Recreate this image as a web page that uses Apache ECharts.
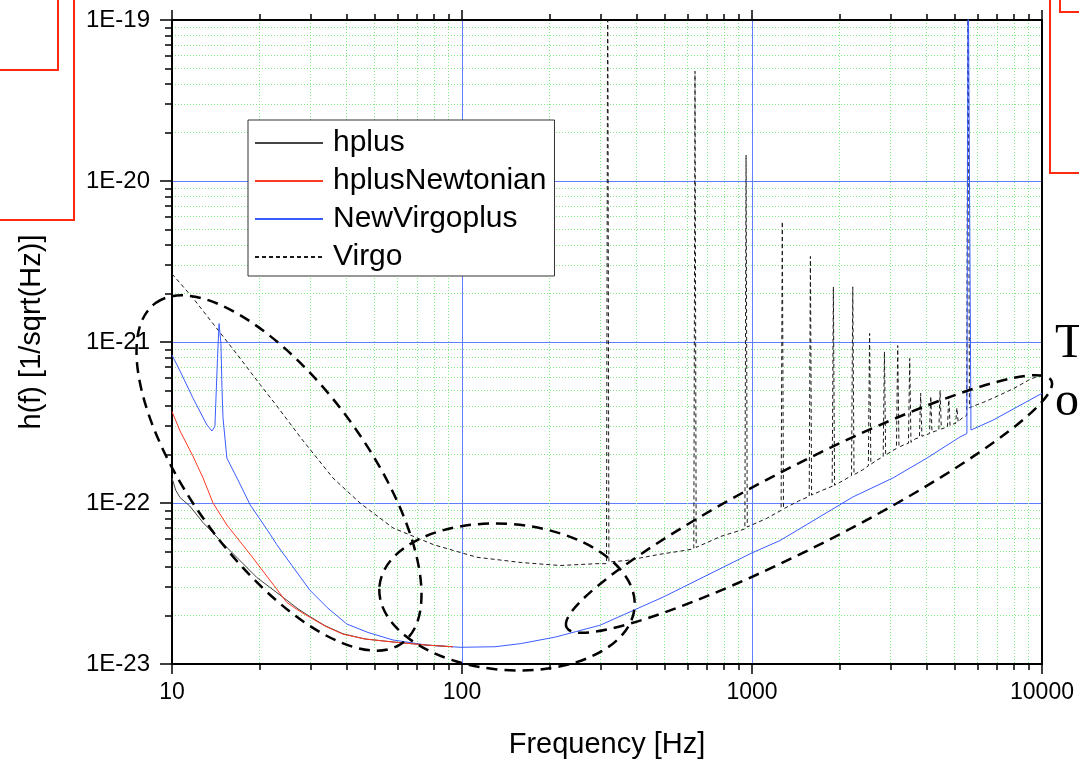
<!DOCTYPE html>
<html>
<head>
<meta charset="utf-8">
<title>h(f) spectra</title>
<script src="https://cdn.jsdelivr.net/npm/echarts@6/dist/echarts.min.js"></script>
<style>
  html, body { margin: 0; padding: 0; background: #fff; }
  #chart { width: 1079px; height: 764px; }
</style>
</head>
<body>
<div id="chart"></div>
<script>
// Strain amplitude spectra, h(f) in 1/sqrt(Hz), versus frequency in Hz.

// hplus: full waveform amplitude
const hplusFreq = [10, 10.3, 10.66, 11.5, 12.8, 15.46, 19.6, 24.9, 27.2, 29.9, 33.7, 38.9, 46.3, 57.8, 75.7, 93];
const hplusVal  = [1.43e-22, 1.2e-22, 1.08e-22, 9.6e-23, 7.55e-23, 5.3e-23, 3.45e-23, 2.49e-23, 2.2e-23, 1.97e-23, 1.73e-23, 1.54e-23, 1.43e-23, 1.37e-23, 1.31e-23, 1.28e-23];

// hplusNewtonian: Newtonian-order amplitude
const newtFreq = [10, 10.66, 11.8, 12.8, 13.85, 15.46, 18.6, 24.9, 27.2, 29.9, 33.7, 38.9, 46.3, 57.8, 75.7, 93];
const newtVal  = [3.7e-22, 2.8e-22, 1.96e-22, 1.43e-22, 1.0e-22, 7.3e-23, 4.8e-23, 2.41e-23, 2.16e-23, 1.95e-23, 1.72e-23, 1.53e-23, 1.43e-23, 1.37e-23, 1.31e-23, 1.28e-23];

// NewVirgoplus: advanced detector sensitivity
const nvFreq = [10, 10.66, 11.8, 13.2, 13.74, 14.06, 14.35, 14.53, 14.75, 14.87, 14.99, 15.46, 16.75, 18.6,
                21.8, 23, 29.9, 34.5, 40.1, 47.4, 57.8, 75.7, 98.5, 130, 160, 210, 299, 493, 1000, 1250, 2228, 3062,
                4008, 5212, 5508, 5560, 5690, 6776, 10000];
const nvVal  = [8.3e-22, 6.6e-22, 4.5e-22, 3.05e-22, 2.8e-22, 3.0e-22, 7.9e-22, 1.3e-21, 9.8e-22, 5.2e-22, 3.4e-22, 1.9e-22, 1.43e-22, 9.75e-23,
                6.4e-23, 5.5e-23, 2.87e-23, 2.22e-23, 1.77e-23, 1.57e-23, 1.41e-23, 1.31e-23, 1.27e-23, 1.28e-23, 1.34e-23, 1.47e-23, 1.74e-23, 2.6e-23, 4.9e-23, 5.85e-23, 1.09e-22, 1.43e-22,
                1.9e-22, 2.57e-22, 2.7e-22, 3e-19, 2.84e-22, 3.27e-22, 4.8e-22];

// Virgo: initial detector sensitivity with violin-mode resonances
const virgoFreq = [10, 11.8, 13.85, 16.75, 20.1, 23, 28, 35.9, 44.5, 57.8, 80, 112.7, 160, 218, 292,
                   315, 318, 321, 371, 480, 597, 630, 636, 642, 780, 945, 954, 963, 1120,
                   1260, 1272, 1284, 1450, 1575, 1590, 1605, 1750, 1890, 1908, 1926, 2080,
                   2204, 2226, 2248, 2400, 2519, 2544, 2569, 2700, 2834, 2862, 2890, 3030,
                   3148, 3180, 3212, 3340, 3463, 3498, 3533, 3650, 3778, 3816, 3854, 3990,
                   4093, 4134, 4175, 4300, 4408, 4452, 4496, 4620, 4722, 4770, 4818, 4950,
                   5037, 5088, 5139, 5300, 5500, 5560, 5620, 5800, 6300, 7000, 8000, 9000, 10000];
const virgoVal  = [2.65e-21, 1.88e-21, 1.3e-21, 8.4e-22, 5.46e-22, 4.0e-22, 2.5e-22, 1.43e-22, 1.0e-22, 7.0e-23, 5.5e-23, 4.6e-23, 4.27e-23, 4.09e-23, 4.2e-23,
                   4.2e-23, 3e-19, 4.3e-23, 4.4e-23, 4.8e-23, 5.1e-23, 5.2e-23, 4.8e-20, 5.3e-23, 6.2e-23, 6.9e-23, 1.45e-20, 7.1e-23, 8.0e-23,
                   9.0e-23, 5.6e-21, 9.2e-23, 1.03e-22, 1.1e-22, 3.4e-21, 1.12e-22, 1.2e-22, 1.27e-22, 2.2e-21, 1.29e-22, 1.39e-22,
                   1.48e-22, 2.2e-21, 1.5e-22, 1.6e-22, 1.7e-22, 1.13e-21, 1.74e-22, 1.85e-22, 1.94e-22, 8.7e-22, 1.98e-22, 2.1e-22,
                   2.18e-22, 9.5e-22, 2.22e-22, 2.3e-22, 2.35e-22, 7.9e-22, 2.38e-22, 2.5e-22, 2.55e-22, 4.8e-22, 2.6e-22, 2.65e-22,
                   2.7e-22, 4.6e-22, 2.75e-22, 2.8e-22, 2.83e-22, 5.0e-22, 2.88e-22, 2.93e-22, 2.98e-22, 4.6e-22, 3.03e-22, 3.1e-22,
                   3.12e-22, 3.9e-22, 3.18e-22, 3.37e-22, 3.5e-22, 3e-19, 3.9e-22, 4.0e-22, 4.23e-22, 4.6e-22, 5.15e-22, 5.8e-22, 6.3e-22];

const seriesNames = ['hplus', 'hplusNewtonian', 'NewVirgoplus', 'Virgo'];
const freqTicks = [10, 100, 1000, 10000];
const strainTicks = ['1E-23', '1E-22', '1E-21', '1E-20', '1E-19'];

// The log scale works on values scaled by H_UNIT so that ticks stay well above rounding limits.
const H_UNIT = 1e-23;
const H_EXP = -23;

const FONT = "'Liberation Sans', Arial, sans-serif";
const SERIF = "'Liberation Serif', 'Times New Roman', serif";

function pairs(freq, vals) {
  return freq.map((f, i) => [f, vals[i] / H_UNIT]);
}

function strainLabel(v) {
  const e = Math.round(Math.log10(v)) + H_EXP;
  const s = '1E' + e;
  return strainTicks.indexOf(s) >= 0 ? s : '';
}

const axisLine = { show: true, onZero: false, lineStyle: { color: '#000', width: 2 } };
const tickStyle = { color: '#000', width: 1.5 };
const ringStyle = { fill: null, stroke: '#000', lineWidth: 2.5, lineDash: [11, 7] };
const boxStyle = { fill: null, stroke: '#ff2a10', lineWidth: 2 };

const chart = echarts.init(document.getElementById('chart'), null, { renderer: 'canvas' });

chart.setOption({
  animation: false,
  backgroundColor: '#fff',
  grid: { left: 172, right: 37, top: 20, bottom: 97, containLabel: false },
  xAxis: [
    {
      type: 'log', logBase: 10, min: freqTicks[0], max: freqTicks[freqTicks.length - 1],
      position: 'bottom',
      name: 'Frequency [Hz]', nameLocation: 'middle', nameGap: 66,
      nameTextStyle: { fontSize: 29, color: '#000', fontFamily: FONT },
      axisLine: axisLine,
      axisTick: { show: true, inside: false, length: 10, lineStyle: tickStyle },
      minorTick: { show: true, splitNumber: 9, length: 6, lineStyle: tickStyle },
      axisLabel: {
        show: true, fontSize: 23, color: '#000', fontFamily: FONT, margin: 17,
        showMinLabel: true, showMaxLabel: true,
        formatter: v => String(Math.round(v))
      },
      splitLine: { show: true, lineStyle: { color: '#5f7dff', width: 1 } },
      minorSplitLine: { show: true, lineStyle: { color: '#80e880', width: 1, type: [1, 2] } }
    },
    {
      type: 'log', logBase: 10, min: freqTicks[0], max: freqTicks[freqTicks.length - 1],
      position: 'top',
      axisLine: axisLine,
      axisTick: { show: true, inside: false, length: 10, lineStyle: tickStyle },
      minorTick: { show: true, splitNumber: 9, length: 6, lineStyle: tickStyle },
      axisLabel: { show: false },
      splitLine: { show: false },
      minorSplitLine: { show: false }
    }
  ],
  yAxis: [
    {
      type: 'log', logBase: 10, min: 1, max: 10000,
      position: 'left',
      name: 'h(f) [1/sqrt(Hz)]', nameLocation: 'middle', nameGap: 126, nameRotate: 90,
      nameTextStyle: { fontSize: 29, color: '#000', fontFamily: FONT, padding: [0, 0, 0, 20] },
      axisLine: axisLine,
      axisTick: { show: true, inside: false, length: 12, lineStyle: tickStyle },
      minorTick: { show: true, splitNumber: 9, length: 7, lineStyle: tickStyle },
      axisLabel: {
        show: true, fontSize: 24, color: '#000', fontFamily: FONT, margin: 22,
        showMinLabel: true, showMaxLabel: true,
        formatter: strainLabel
      },
      splitLine: { show: true, lineStyle: { color: '#5f7dff', width: 1 } },
      minorSplitLine: { show: true, lineStyle: { color: '#80e880', width: 1, type: [1, 2] } }
    },
    {
      type: 'log', logBase: 10, min: 1, max: 10000,
      position: 'right',
      axisLine: axisLine,
      axisTick: { show: false },
      minorTick: { show: false },
      axisLabel: { show: false },
      splitLine: { show: false },
      minorSplitLine: { show: false }
    }
  ],
  legend: {
    data: seriesNames,
    orient: 'vertical',
    left: 248, top: 120,
    itemWidth: 68, itemHeight: 14, itemGap: 8,
    padding: [8, 8, 4, 6],
    backgroundColor: '#fff',
    borderColor: '#333', borderWidth: 1,
    itemStyle: { opacity: 0 },
    textStyle: { fontSize: 30, color: '#000', fontFamily: FONT, padding: [0, 0, 0, 5] }
  },
  series: [
    {
      name: seriesNames[3], type: 'line', data: pairs(virgoFreq, virgoVal),
      symbol: 'none', showSymbol: false, clip: true, z: 2, color: '#1a1a1a',
      lineStyle: { color: '#1a1a1a', width: 1, type: [4, 3] }
    },
    {
      name: seriesNames[2], type: 'line', data: pairs(nvFreq, nvVal),
      symbol: 'none', showSymbol: false, clip: true, z: 3, color: '#3a5cff',
      lineStyle: { color: '#3a5cff', width: 1 }
    },
    {
      name: seriesNames[0], type: 'line', data: pairs(hplusFreq, hplusVal),
      symbol: 'none', showSymbol: false, clip: true, z: 4, color: '#444',
      lineStyle: { color: '#444', width: 1 }
    },
    {
      name: seriesNames[1], type: 'line', data: pairs(newtFreq, newtVal),
      symbol: 'none', showSymbol: false, clip: true, z: 5, color: '#ff3a22',
      lineStyle: { color: '#ff3a22', width: 1 }
    }
  ],
  graphic: [
    // dashed annotation rings around the regions of interest
    { type: 'ellipse', x: 279, y: 473, rotation: -54 * Math.PI / 180, z: 100,
      shape: { cx: 0, cy: 0, rx: 210, ry: 88 }, style: ringStyle },
    { type: 'ellipse', x: 507, y: 597, rotation: -0.08, z: 100,
      shape: { cx: 0, cy: 0, rx: 128, ry: 73 }, style: ringStyle },
    { type: 'ellipse', x: 809, y: 504, rotation: 27 * Math.PI / 180, z: 100,
      shape: { cx: 0, cy: 0, rx: 272, ry: 41 }, style: ringStyle },
    // frames of neighbouring slide boxes
    { type: 'rect', z: 100, shape: { x: -5, y: -5, width: 63, height: 75 }, style: boxStyle },
    { type: 'rect', z: 100, shape: { x: -5, y: -5, width: 79, height: 225 }, style: boxStyle },
    { type: 'rect', z: 100, shape: { x: 1050, y: -5, width: 60, height: 178 }, style: boxStyle },
    { type: 'rect', z: 100, shape: { x: 1060, y: -5, width: 50, height: 17 }, style: boxStyle },
    { type: 'text', z: 100, x: 1055, y: 368,
      style: { text: 'T', font: '48px ' + SERIF, fill: '#000', textVerticalAlign: 'bottom' } },
    { type: 'text', z: 100, x: 1055, y: 426,
      style: { text: 'o', font: '48px ' + SERIF, fill: '#000', textVerticalAlign: 'bottom' } }
  ]
});
</script>
</body>
</html>
